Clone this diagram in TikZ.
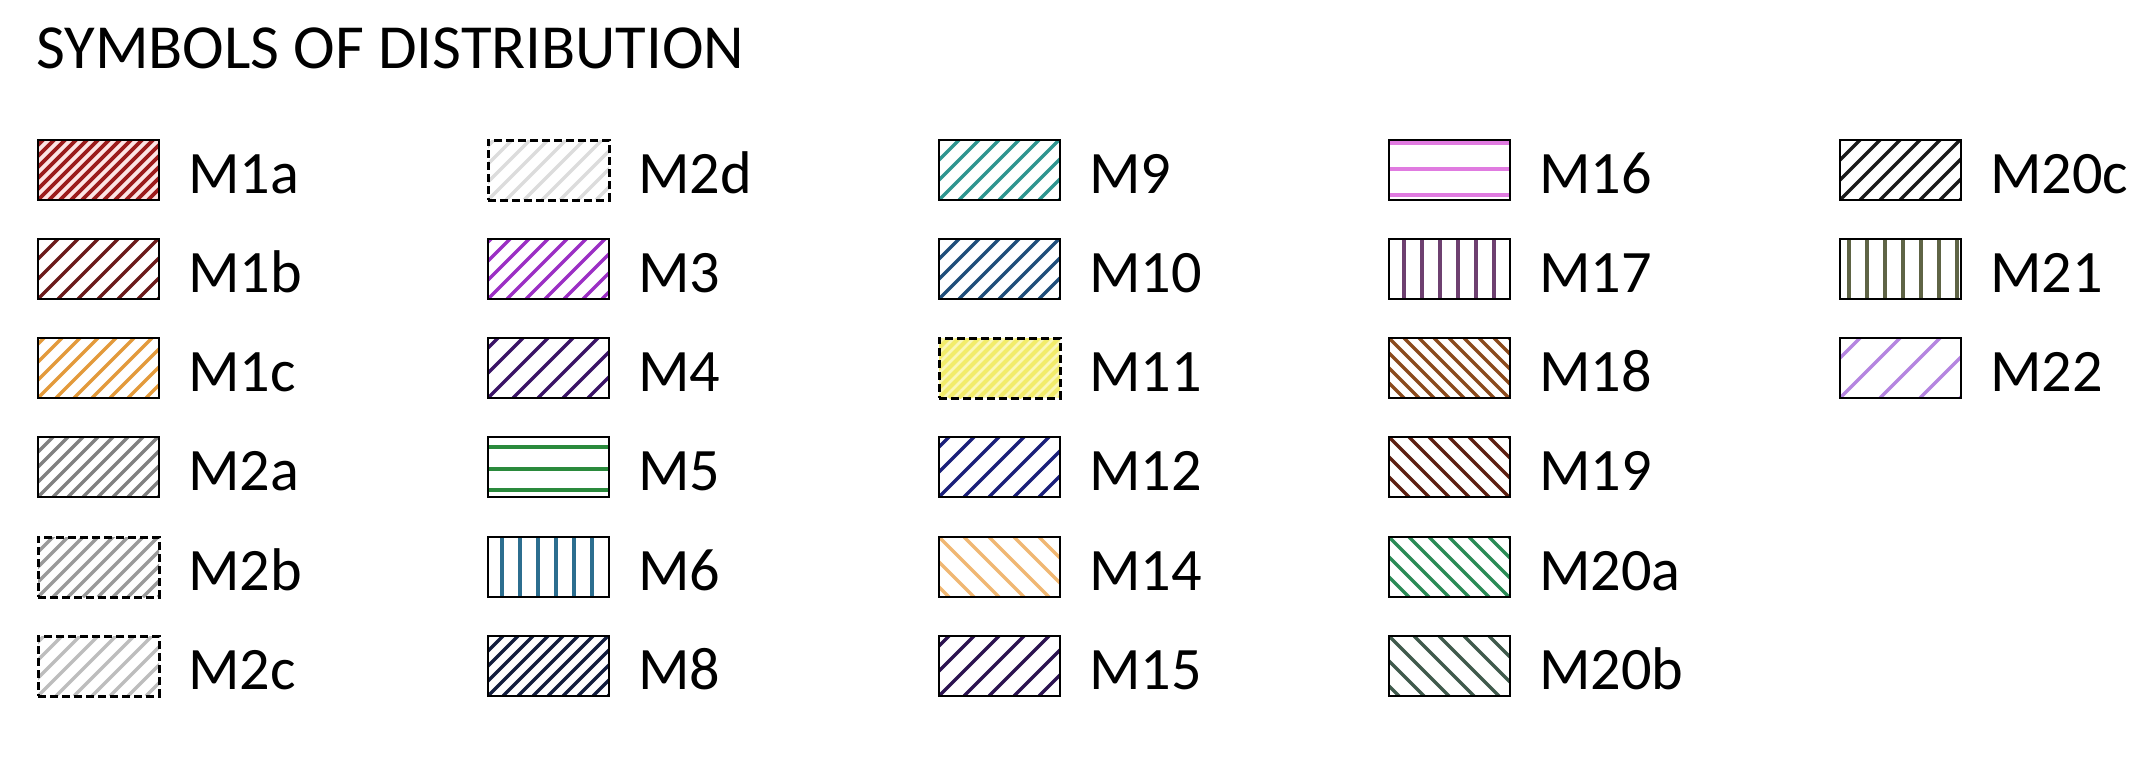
\documentclass[tikz,border=0pt]{standalone}
\usepackage{fontspec}
\setmainfont{Carlito}
\definecolor{cM1a}{HTML}{9B1B1B}\definecolor{bM1a}{HTML}{FCE4E4}
\definecolor{cM1b}{HTML}{6B1A1A}
\definecolor{cM1c}{HTML}{E39A3B}
\definecolor{cM2a}{HTML}{808080}
\definecolor{cM2b}{HTML}{9A9A9A}
\definecolor{cM2c}{HTML}{BDBDBD}
\definecolor{cM2d}{HTML}{DCDCDC}
\definecolor{cM3}{HTML}{9B2FC4}
\definecolor{cM4}{HTML}{3A1366}
\definecolor{cM5}{HTML}{2A8A3C}
\definecolor{cM6}{HTML}{2C6E8F}
\definecolor{cM8}{HTML}{111C3D}
\definecolor{cM9}{HTML}{2E958F}
\definecolor{cM10}{HTML}{1F4E7A}
\definecolor{cM11}{HTML}{F2EC6A}\definecolor{bM11}{HTML}{FAF7B8}
\definecolor{cM12}{HTML}{1A1F7A}
\definecolor{cM14}{HTML}{F0B772}
\definecolor{cM15}{HTML}{2B1250}
\definecolor{cM16}{HTML}{E07BE0}
\definecolor{cM17}{HTML}{6E4070}
\definecolor{cM18}{HTML}{8B4A1C}
\definecolor{cM19}{HTML}{5C1E10}
\definecolor{cM20a}{HTML}{2A8A55}
\definecolor{cM20b}{HTML}{3F5A4C}
\definecolor{cM20c}{HTML}{1A1A1A}
\definecolor{cM21}{HTML}{5F6445}
\definecolor{cM22}{HTML}{B585E0}
\tikzset{
  swatch/.style={draw=black, line width=2.2bp, minimum width=121bp, minimum height=60bp,
    inner sep=0pt, outer sep=0pt, fill=white},
  dashedborder/.style={line width=3bp, dash pattern=on 8bp off 4bp},
  hatchR/.style n args={3}{path picture={\foreach \k in {-7,...,14}{\draw[draw=#1, solid, line width=#3]
      ([xshift={\k*#2*1bp}]path picture bounding box.south west) -- ++(75bp,75bp);}}},
  hatchL/.style n args={3}{path picture={\foreach \k in {-7,...,14}{\draw[draw=#1, solid, line width=#3]
      ([xshift={\k*#2*1bp}]path picture bounding box.north west) -- ++(75bp,-75bp);}}},
  hlines/.style 2 args={path picture={\foreach \yy in {#2}{\draw[draw=#1, solid, line width=3.6bp]
      ([yshift={-\yy*1bp}]path picture bounding box.north west) -- ++(130bp,0bp);}}},
  vlines/.style 2 args={path picture={\foreach \xx in {#2}{\draw[draw=#1, solid, line width=3.4bp]
      ([xshift={\xx*1bp}]path picture bounding box.north west) -- ++(0bp,-70bp);}}},
  lbl/.style={anchor=base west, font=\fontsize{60.5}{60.5}\selectfont, inner sep=0pt},
  ttl/.style={anchor=base west, font=\fontsize{63}{63}\selectfont, inner sep=0pt},
}
\newcommand{\swatchitem}[5]{%
  \node[swatch, anchor=north west, #4] (#1) at (#2,#3) {};
  \node[lbl] (#1t) at ([xshift=29bp, yshift=-23bp]#1.east) {#5};}
\begin{document}
\begin{tikzpicture}[x=1bp, y=-1bp]
\useasboundingbox (0,0) rectangle (2151,763);
\node[ttl] (title) at (36,69) {SYMBOLS OF DISTRIBUTION};
% column 1
\swatchitem{m1a}{38}{140}{fill=bM1a, hatchR={cM1a}{11}{3.8bp}}{M1a}
\swatchitem{m1b}{38}{239}{hatchR={cM1b}{20}{3.5bp}}{M1b}
\swatchitem{m1c}{38}{338}{hatchR={cM1c}{18}{3.5bp}}{M1c}
\swatchitem{m2a}{38}{437}{hatchR={cM2a}{15}{3.5bp}}{M2a}
\swatchitem{m2b}{38}{537}{dashedborder, hatchR={cM2b}{15}{3.5bp}}{M2b}
\swatchitem{m2c}{38}{636}{dashedborder, hatchR={cM2c}{18}{3.5bp}}{M2c}
% column 2
\swatchitem{m2d}{488}{140}{dashedborder, hatchR={cM2d}{18}{3.5bp}}{M2d}
\swatchitem{m3}{488}{239}{hatchR={cM3}{19}{3.5bp}}{M3}
\swatchitem{m4}{488}{338}{hatchR={cM4}{25}{3.5bp}}{M4}
\swatchitem{m5}{488}{437}{hlines={cM5}{10,32,53}}{M5}
\swatchitem{m6}{488}{537}{vlines={cM6}{14,32,50,68,86,104}}{M6}
\swatchitem{m8}{488}{636}{hatchR={cM8}{15}{3.5bp}}{M8}
% column 3
\swatchitem{m9}{939}{140}{hatchR={cM9}{20}{3.5bp}}{M9}
\swatchitem{m10}{939}{239}{hatchR={cM10}{20}{3.5bp}}{M10}
\swatchitem{m11}{939}{338}{dashedborder, fill=bM11, hatchR={cM11}{10}{4bp}}{M11}
\swatchitem{m12}{939}{437}{hatchR={cM12}{25}{3.5bp}}{M12}
\swatchitem{m14}{939}{537}{hatchL={cM14}{25}{3.5bp}}{M14}
\swatchitem{m15}{939}{636}{hatchR={cM15}{25}{3.5bp}}{M15}
% column 4
\swatchitem{m16}{1389}{140}{hlines={cM16}{3,29,55}}{M16}
\swatchitem{m17}{1389}{239}{vlines={cM17}{15,33,51,69,87,105}}{M17}
\swatchitem{m18}{1389}{338}{hatchL={cM18}{15}{3.5bp}}{M18}
\swatchitem{m19}{1389}{437}{hatchL={cM19}{20}{3.5bp}}{M19}
\swatchitem{m20a}{1389}{537}{hatchL={cM20a}{20}{3.5bp}}{M20a}
\swatchitem{m20b}{1389}{636}{hatchL={cM20b}{25}{3.5bp}}{M20b}
% column 5
\swatchitem{m20c}{1840}{140}{hatchR={cM20c}{20}{3.5bp}}{M20c}
\swatchitem{m21}{1840}{239}{vlines={cM21}{9,27,45,63,81,99,117}}{M21}
\swatchitem{m22}{1840}{338}{hatchR={cM22}{40}{3.5bp}}{M22}
\end{tikzpicture}
\end{document}
